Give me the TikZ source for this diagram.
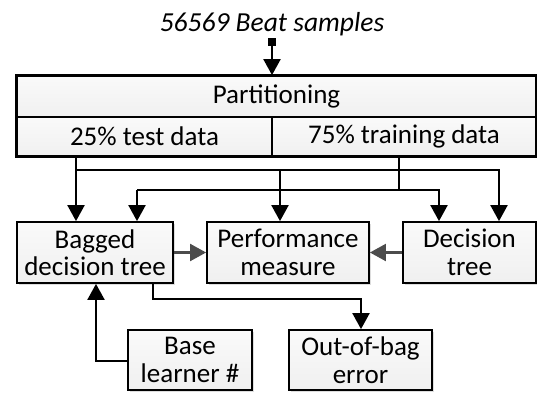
\documentclass[tikz,border=0pt]{standalone}
\usepackage{fontspec}
\setmainfont{Carlito}
\usetikzlibrary{arrows.meta,shadows}
\begin{document}
\begin{tikzpicture}[x=1pt,y=-1pt,
  box/.style={draw=black,line width=1.8pt,top color=gray!4,bottom color=gray!12,
    drop shadow={shadow xshift=2pt,shadow yshift=-2pt,fill=gray!45,opacity=0.6},
    inner sep=0pt,align=center,font=\fontsize{27}{27.5}\selectfont},
  conn/.style={line width=2.1pt,draw=black},
  arr/.style={conn,-{Triangle[width=17pt,length=16pt]}},
  garr/.style={line width=2.1pt,draw=black!70,-{Triangle[width=17pt,length=16pt]}}]
\useasboundingbox (0,0) rectangle (537,392);
% title
\node[font=\fontsize{27.5}{23}\selectfont\itshape] (title) at (272,24) {56569 Beat samples};
\node[fill=black,minimum size=8.5pt,inner sep=0pt] (sq) at (272,42) {};
% partition
\node[box,minimum width=519pt,minimum height=41pt] (part) at (276.5,96.5) {Partitioning};
\node[box,drop shadow={opacity=0},minimum width=255pt,minimum height=39pt] (test) at (144.5,136.5) {25\% test data};
\node[box,drop shadow={opacity=0},minimum width=264pt,minimum height=39pt] (train) at (404,136.5) {75\% training data};
\draw[line width=1.8pt] (part.north west) rectangle (train.south east);
% boxes
\node[box,minimum width=156pt,minimum height=61pt] (bag) at (95,252.5) {Bagged\\decision tree};
\node[box,minimum width=162pt,minimum height=61pt] (perf) at (288,252.5) {Performance\\measure};
\node[box,minimum width=133pt,minimum height=61pt] (dec) at (469.5,252.5) {Decision\\tree};
\node[box,minimum width=124pt,minimum height=60pt] (base) at (190,360) {Base\\learner \#};
\node[box,minimum width=143pt,minimum height=60pt] (oob) at (360.5,360) {Out-of-bag\\error};
% coordinates
\coordinate (tA) at (76,170);
\coordinate (tB) at (280,170);
\coordinate (tC) at (499,170);
\coordinate (rA) at (137,190);
\coordinate (rB) at (399,190);
\coordinate (rC) at (439,190);
\coordinate (o1) at (153,299);
\coordinate (o2) at (361,299);
\coordinate (b1) at (96,361);
% connectors
\draw[arr] (sq) -- (part.north -| sq);
\draw[arr] (test.south -| tA) -- (bag.north -| tA);
\draw[arr] (tA) -- (tC) -- (dec.north -| tC);
\draw[arr] (tB) -- (perf.north -| tB);
\draw[conn] (train.south -| rB) -- (rB);
\draw[arr] (rA) -- (bag.north -| rA);
\draw[arr] (rA) -- (rC) -- (dec.north -| rC);
\draw[arr] (bag.south -| o1) -- (o1) -- (o2) -- (oob.north -| o2);
\draw[arr] (base.west |- b1) -- (b1) -- (bag.south -| b1);
\draw[garr] (bag.east) -- (perf.west);
\draw[garr] (dec.west) -- (perf.east);
\end{tikzpicture}
\end{document}
